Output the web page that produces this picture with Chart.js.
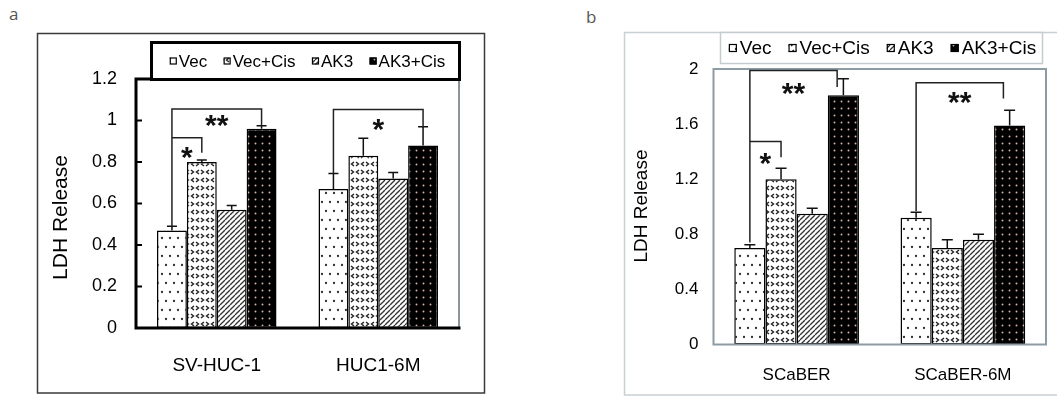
<!DOCTYPE html>
<html><head><meta charset="utf-8">
<script src="https://cdn.jsdelivr.net/npm/chart.js@4.4.1/dist/chart.umd.min.js"></script>
<style>
html,body{margin:0;padding:0;background:#fff;width:1057px;height:396px;overflow:hidden;}
#wa{position:absolute;left:0;top:0;width:530px;height:396px;}
#wb{position:absolute;left:530px;top:0;width:527px;height:396px;}
.pl{position:absolute;font-family:'Open Sans',sans-serif;font-size:17px;line-height:17px;color:#555;}
</style></head><body>
<div class="pl" style="left:9px;top:5px">a</div>
<div class="pl" style="left:586px;top:8px">b</div>
<div id="wa"><canvas id="ca"></canvas></div>
<div id="wb"><canvas id="cb"></canvas></div>
<script>
// ---------- data ----------
const seriesNames = ['Vec', 'Vec+Cis', 'AK3', 'AK3+Cis'];
const categoriesA = ['SV-HUC-1', 'HUC1-6M'];
const vecA     = [0.47, 0.67];
const vecCisA  = [0.80, 0.83];
const ak3A     = [0.57, 0.72];
const ak3CisA  = [0.96, 0.88];
const vecErrA    = [0.02, 0.075];
const vecCisErrA = [0.01, 0.085];
const ak3ErrA    = [0.02, 0.03];
const ak3CisErrA = [0.015, 0.09];
const yTicksA = [0, 0.2, 0.4, 0.6, 0.8, 1, 1.2];

const categoriesB = ['SCaBER', 'SCaBER-6M'];
const vecB     = [0.70, 0.92];
const vecCisB  = [1.20, 0.70];
const ak3B     = [0.95, 0.76];
const ak3CisB  = [1.81, 1.59];
const vecErrB    = [0.025, 0.04];
const vecCisErrB = [0.08, 0.06];
const ak3ErrB    = [0.04, 0.04];
const ak3CisErrB = [0.12, 0.11];
const yTicksB = [0, 0.4, 0.8, 1.2, 1.6, 2];

// significance brackets (values in data units)
const sigA = [
  {group:0, from:0, to:3, start:0.49, top:1.055, end:0.975, mark:'**', markAt:1.013},
  {group:0, from:0, to:1, start:0.917, top:0.917, end:0.845, mark:'*', markAt:0.858},
  {group:1, from:0, to:3, start:0.745, top:1.053, end:0.965, mark:'*', markAt:0.994}
];
const sigB = [
  {group:0, from:0, to:3, start:0.74, top:1.99, end:1.87, mark:'**', markAt:1.88},
  {group:0, from:0, to:1, start:1.473, top:1.473, end:1.36, mark:'*', markAt:1.37},
  {group:1, from:0, to:3, start:0.967, top:1.90, end:1.785, mark:'**', markAt:1.81}
];

const F = '"Liberation Sans", Arial, sans-serif';

// ---------- patterns ----------
function makePatterns(ctx){
  function tile(w,h,fn){const c=document.createElement('canvas');c.width=w;c.height=h;const g=c.getContext('2d');fn(g,w,h);return ctx.createPattern(c,'repeat');}
  function dot(g,x,y,r){g.beginPath();g.arc(x,y,r,0,Math.PI*2);g.fill();}
  const dots = tile(8,18,(g,w,h)=>{g.fillStyle='#fff';g.fillRect(0,0,w,h);g.fillStyle='#2e2e2e';dot(g,2,4,1.15);dot(g,6,13,1.15);});
  const chev = tile(10,16,(g,w,h)=>{g.fillStyle='#fff';g.fillRect(0,0,w,h);g.strokeStyle='#222';g.lineWidth=1.4;
    function lt(x,y){g.beginPath();g.moveTo(x+1.5,y-2);g.lineTo(x-1,y);g.lineTo(x+1.5,y+2);g.stroke();}
    function gt(x,y){g.beginPath();g.moveTo(x-1.5,y-2);g.lineTo(x+1,y);g.lineTo(x-1.5,y+2);g.stroke();}
    lt(2.5,4); gt(7.5,4); gt(2.5,12); lt(7.5,12);});
  const hatch = tile(5,5,(g,w,h)=>{g.fillStyle='#fff';g.fillRect(0,0,w,h);g.strokeStyle='#333';g.lineWidth=1.3;
    for(const k of [-1,0,1]){g.beginPath();g.moveTo(k*w,h);g.lineTo(k*w+w,0);g.stroke();}});
  const dark = tile(7,7,(g,w,h)=>{g.fillStyle='#000';g.fillRect(0,0,w,h);g.fillStyle='#d8b4aa';dot(g,3.5,3.5,0.95);});
  return [dots, chev, hatch, dark];
}

// ---------- decoration plugin ----------
const decor = {
  id:'decor',
  beforeDraw(chart, args, o){
    const ctx=chart.ctx; ctx.save();
    if(o.frame){ctx.strokeStyle=o.frame.color;ctx.lineWidth=o.frame.width;ctx.strokeRect(...o.frame.rect);}
    ctx.restore();
  },
  afterDatasetsDraw(chart, args, o){
    const ctx=chart.ctx, ca=chart.chartArea, ys=chart.scales.y;
    ctx.save();
    // plot borders
    if(o.axisStyle==='a'){
      ctx.strokeStyle='#8a9599';ctx.lineWidth=2;
      ctx.beginPath();ctx.moveTo(ca.right,ca.top);ctx.lineTo(ca.right,ca.bottom);ctx.stroke();
      ctx.strokeStyle='#000';ctx.lineWidth=3;ctx.lineCap='square';
      ctx.beginPath();ctx.moveTo(ca.right,ca.top);ctx.lineTo(ca.left,ca.top);ctx.lineTo(ca.left,ca.bottom);ctx.lineTo(ca.right,ca.bottom);ctx.stroke();
      ctx.lineWidth=2;ctx.lineCap='butt';
      ys.ticks.forEach(t=>{const y=ys.getPixelForValue(t.value);ctx.beginPath();ctx.moveTo(ca.left,y);ctx.lineTo(ca.left+6,y);ctx.stroke();});
    } else {
      ctx.strokeStyle='#8d9ca4';ctx.lineWidth=2;
      ctx.strokeRect(ca.left,ca.top,ca.right-ca.left,ca.bottom-ca.top);
    }
    // error bars
    ctx.strokeStyle='#111';ctx.lineWidth=1.5;
    chart.data.datasets.forEach((ds,i)=>{
      chart.getDatasetMeta(i).data.forEach((el,j)=>{
        const yt=ys.getPixelForValue(ds.data[j]+o.errors[i][j]);
        ctx.beginPath();ctx.moveTo(el.x,el.y);ctx.lineTo(el.x,yt);
        ctx.moveTo(el.x-o.cap,yt);ctx.lineTo(el.x+o.cap,yt);ctx.stroke();
      });
    });
    // significance brackets
    ctx.strokeStyle='#222';ctx.lineWidth=1.5;
    o.brackets.forEach(b=>{
      const e1=chart.getDatasetMeta(b.from).data[b.group], e2=chart.getDatasetMeta(b.to).data[b.group];
      const x1=e1.x, x2=e2.x+(b.to===3?o.endShift*e2.width:0);
      const y0=ys.getPixelForValue(b.start), yt=ys.getPixelForValue(b.top), y1=ys.getPixelForValue(b.end);
      ctx.beginPath();ctx.moveTo(x1,y0);ctx.lineTo(x1,yt);ctx.lineTo(x2,yt);ctx.lineTo(x2,y1);ctx.stroke();
      const sz=o.markSize;
      ctx.font=`bold ${sz}px ${F}`;ctx.fillStyle='#111';ctx.textAlign='center';ctx.textBaseline='alphabetic';
      ctx.fillText(b.mark,(x1+x2)/2,ys.getPixelForValue(b.markAt)+0.575*sz);
    });
    // legend
    const L=o.legend, [bx,by,bw,bh]=L.box;
    ctx.fillStyle='#fff';ctx.fillRect(bx,by,bw,bh);
    ctx.lineWidth=L.borderWidth;ctx.strokeStyle=L.borderColor;ctx.strokeRect(bx,by,bw,bh);
    ctx.font=`${L.size}px ${F}`;
    const items=chart.data.datasets.map(d=>({label:d.label,bg:d.backgroundColor,w:ctx.measureText(d.label).width}));
    const total=items.reduce((s,it)=>s+L.sq+L.gapText+it.w,0)+L.gapItem*(items.length-1);
    let x=bx+(bw-total)/2+(L.shift||0); const cy=by+bh/2;
    items.forEach(it=>{
      ctx.fillStyle=it.bg;ctx.fillRect(x,cy-L.sq/2,L.sq,L.sq);
      ctx.lineWidth=1.2;ctx.strokeStyle='#000';ctx.strokeRect(x+0.5,cy-L.sq/2+0.5,L.sq-1,L.sq-1);
      x+=L.sq+L.gapText;
      ctx.fillStyle='#000';ctx.textAlign='left';ctx.textBaseline='middle';ctx.fillText(it.label,x,cy+1);
      x+=it.w+L.gapItem;
    });
    // y title
    const T=o.yTitle;
    ctx.translate(T.x,T.y);ctx.rotate(-Math.PI/2);
    ctx.font=`${T.size}px ${F}`;ctx.fillStyle='#000';ctx.textAlign='center';ctx.textBaseline='middle';
    ctx.fillText(T.text,0,0);
    ctx.restore();
  }
};

function build(id, cfg){
  const ctx=document.getElementById(id).getContext('2d');
  const pats=makePatterns(ctx);
  const vals=cfg.values;
  const datasets=seriesNames.map((n,i)=>({label:n,data:vals[i],backgroundColor:pats[i],borderColor:'#000',borderWidth:1.5,borderSkipped:false,barPercentage:1,categoryPercentage:cfg.catPct}));
  return new Chart(ctx,{
    type:'bar',
    data:{labels:cfg.labels,datasets},
    plugins:[decor],
    options:{
      responsive:true,maintainAspectRatio:false,animation:false,events:[],
      layout:{padding:cfg.padding},
      plugins:{legend:{display:false},tooltip:{enabled:false},decor:cfg.decor},
      scales:{
        x:{ticks:{padding:cfg.xPad,color:'#000',font:{family:F,size:cfg.xFont},maxRotation:0,autoSkip:false},
           grid:{display:false,drawTicks:false},border:{display:false},
           afterFit(s){s.height=cfg.xHeight;}},
        y:{min:cfg.ticks[0],max:cfg.ticks[cfg.ticks.length-1],
           afterBuildTicks(s){s.ticks=cfg.ticks.map(v=>({value:v}));},
           ticks:{padding:cfg.yPad,color:'#000',font:{family:F,size:cfg.yFont},callback:(v)=>String(v)},
           grid:{display:false,drawTicks:false},border:{display:false},
           afterFit(s){s.width=cfg.yWidth;}}
      }
    }
  });
}

build('ca',{
  labels:categoriesA, values:[vecA,vecCisA,ak3A,ak3CisA], ticks:yTicksA, catPct:0.74,
  padding:{left:0,top:79,right:71,bottom:0}, yWidth:136, xHeight:68, xPad:26, yPad:19, xFont:19, yFont:18,
  decor:{axisStyle:'a', errors:[vecErrA,vecCisErrA,ak3ErrA,ak3CisErrA], cap:5, brackets:sigA, endShift:0, markSize:30,
    frame:{rect:[37.5,33.5,447,359.5],color:'#3a3a3a',width:1.5},
    legend:{box:[151.5,42.5,308,37],borderWidth:3,borderColor:'#000',size:17,sq:7,gapText:2,gapItem:16.5,shift:2},
    yTitle:{text:'LDH Release',x:61,y:217.5,size:21}}
});
build('cb',{
  labels:categoriesB, values:[vecB,vecCisB,ak3B,ak3CisB], ticks:yTicksB, catPct:0.75,
  padding:{left:0,top:69,right:11,bottom:0}, yWidth:183.5, xHeight:51.5, xPad:21, yPad:15, xFont:17, yFont:17,
  decor:{axisStyle:'b', errors:[vecErrB,vecCisErrB,ak3ErrB,ak3CisErrB], cap:5.5, brackets:sigB, endShift:-0.2, markSize:30,
    frame:{rect:[94.5,32.5,440,362.5],color:'#c8d0d3',width:1.5},
    legend:{box:[190.5,32.5,322,31],borderWidth:1.5,borderColor:'#c5ccd0',size:19,sq:8,gapText:3,gapItem:17,shift:1},
    yTitle:{text:'LDH Release',x:111.6,y:206,size:19}}
});
</script>
</body></html>
